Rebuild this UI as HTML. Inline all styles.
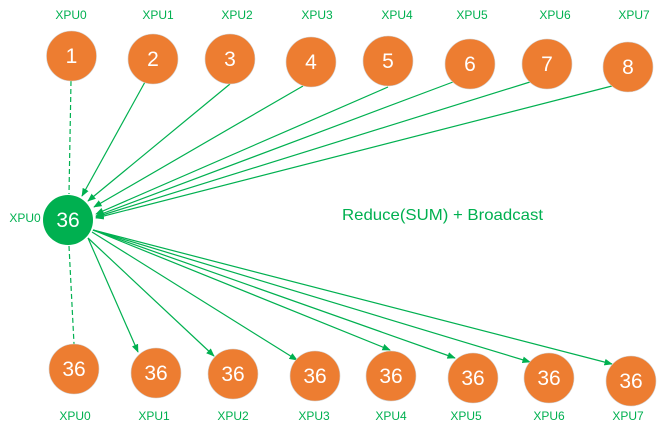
<!DOCTYPE html>
<html><head><style>body{margin:0;background:#fff}svg{display:block}</style></head>
<body>
<svg width="658" height="432" viewBox="0 0 658 432" xmlns="http://www.w3.org/2000/svg" font-family="Liberation Sans, sans-serif">
<defs><marker id="a" viewBox="0 0 10 10" refX="9" refY="5" markerWidth="7" markerHeight="7" orient="auto"><path d="M0,1 L10,5 L0,9 z" fill="#00b050"/></marker></defs>
<g fill="#00b050" font-size="12" text-anchor="middle">
<text x="71" y="19">XPU0</text><text x="158" y="19">XPU1</text><text x="237" y="19">XPU2</text><text x="317" y="19">XPU3</text><text x="397" y="19">XPU4</text><text x="472" y="19">XPU5</text><text x="555" y="19">XPU6</text><text x="634" y="19">XPU7</text>
<text x="25" y="222">XPU0</text>
<text x="75" y="420">XPU0</text><text x="154" y="420">XPU1</text><text x="233" y="420">XPU2</text><text x="314" y="420">XPU3</text><text x="391" y="420">XPU4</text><text x="466" y="420">XPU5</text><text x="549" y="420">XPU6</text><text x="628" y="420">XPU7</text>
</g>
<text x="342" y="220" fill="#00b050" font-size="16" textLength="201" lengthAdjust="spacingAndGlyphs">Reduce(SUM) + Broadcast</text>
<g stroke="#00b050" stroke-width="1.2" fill="none">
<line x1="71" y1="81" x2="69" y2="194" stroke-dasharray="5,3"/>
<line x1="69" y1="246" x2="74" y2="344" stroke-dasharray="5,3"/>
<g marker-end="url(#a)">
<line x1="145" y1="82" x2="82" y2="196"/>
<line x1="230" y1="84" x2="88" y2="201"/>
<line x1="303" y1="86" x2="94" y2="207"/>
<line x1="388" y1="87" x2="96" y2="214"/>
<line x1="453" y1="82" x2="96" y2="216"/>
<line x1="530" y1="82" x2="96" y2="217"/>
<line x1="612" y1="86" x2="96" y2="218"/>
<line x1="88" y1="238" x2="138" y2="352"/>
<line x1="88" y1="238" x2="214" y2="356"/>
<line x1="92" y1="232" x2="297" y2="360"/>
<line x1="93" y1="230" x2="390" y2="350"/>
<line x1="93" y1="230" x2="455" y2="358"/>
<line x1="93" y1="230" x2="530" y2="362"/>
<line x1="93" y1="230" x2="612" y2="364"/>
</g></g>
<g fill="#ed7d31" stroke="#d0d0d0" stroke-width="0.6">
<circle cx="71.5" cy="56" r="25"/><circle cx="153" cy="59" r="25"/><circle cx="230" cy="59" r="25"/><circle cx="311" cy="62" r="25"/><circle cx="388" cy="61" r="25"/><circle cx="470" cy="64" r="25"/><circle cx="547" cy="64" r="25"/><circle cx="628" cy="67" r="25"/>
<circle cx="74" cy="369" r="25"/><circle cx="156" cy="373" r="25"/><circle cx="233" cy="374" r="25"/><circle cx="315" cy="376" r="25"/><circle cx="391" cy="376" r="25"/><circle cx="473" cy="378" r="25"/><circle cx="549" cy="378" r="25"/><circle cx="631" cy="381" r="25"/>
</g>
<circle cx="68" cy="220" r="25" fill="#00b050"/>
<g fill="#fff" font-size="21" text-anchor="middle">
<text x="71.5" y="63">1</text><text x="153" y="66">2</text><text x="230" y="66">3</text><text x="311" y="69">4</text><text x="388" y="68">5</text><text x="470" y="71">6</text><text x="547" y="71">7</text><text x="628" y="74">8</text>
<text x="68" y="227">36</text>
<text x="74" y="376">36</text><text x="156" y="380">36</text><text x="233" y="381">36</text><text x="315" y="383">36</text><text x="391" y="383">36</text><text x="473" y="385">36</text><text x="549" y="385">36</text><text x="631" y="388">36</text>
</g>
</svg>
</body></html>
